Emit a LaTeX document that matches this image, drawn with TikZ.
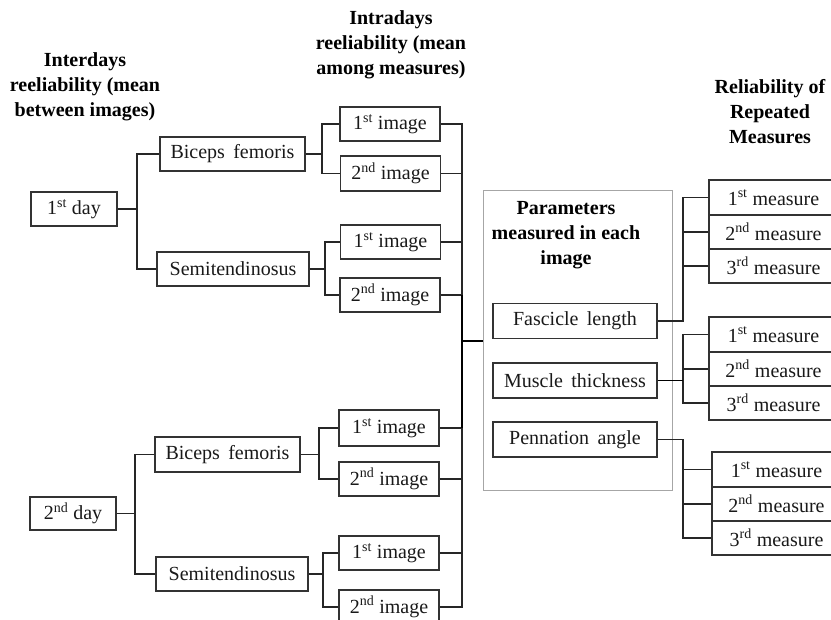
\documentclass[tikz,border=0pt]{standalone}
\usepackage{fontspec}
\setmainfont{Liberation Serif}
\begin{document}
\begin{tikzpicture}[x=1pt,y=-1pt,
  box/.style={draw=black!80,line width=1.1pt,inner sep=0pt,minimum height=34pt,
     font=\fontsize{20}{24}\selectfont,text=black!90},
  imgbox/.style={box,minimum width=100pt},
  meas/.style={box,minimum width=129pt},
  parbox/.style={box,minimum width=164pt,minimum height=35pt},
  title/.style={align=center,inner sep=0pt,font=\bfseries\fontsize{20}{25}\selectfont},
  conn/.style={draw=black!85,line width=1.1pt},
  bold conn/.style={draw=black,line width=1.6pt}]
\useasboundingbox (0,0) rectangle (831,620);
\clip (0,0) rectangle (831,620);
% titles
\node[title] (t1) at (85,87) {Interdays\\reeliability (mean\\between images)};
\node[title] (t2) at (391,45) {Intradays\\reeliability (mean\\among measures)};
\node[title] (t3) at (770,112) {Reliability of\\Repeated\\Measures};
% gray parameters box
\node[draw=black!35,line width=1pt,minimum width=189pt,minimum height=300pt,inner sep=0pt] (par) at (577.5,341) {};
\node[title] (t4) at (566,235) {Parameters\\measured in each\\image};
% day 1
\node[box,minimum width=86pt] (day1) at (74,209) {1\textsuperscript{st} day};
\node[box,minimum width=145pt] (bf1) at (232.5,154) {Biceps\, femoris};
\node[box,minimum width=152pt] (st1) at (233,269) {Semitendinosus};
\node[imgbox] (im1a) at (390,124) {1\textsuperscript{st} image};
\node[imgbox,minimum height=35pt] (im1b) at (390.5,173.5) {2\textsuperscript{nd} image};
\node[imgbox] (im1c) at (390.5,242) {1\textsuperscript{st} image};
\node[imgbox] (im1d) at (390,295) {2\textsuperscript{nd} image};
% day 2
\node[box,minimum width=86pt,minimum height=33pt] (day2) at (73,513.5) {2\textsuperscript{nd} day};
\node[box,minimum width=145pt,minimum height=35pt] (bf2) at (227.5,454.5) {Biceps\, femoris};
\node[box,minimum width=152pt] (st2) at (232,574) {Semitendinosus};
\node[imgbox,minimum height=36pt] (im2a) at (389,428) {1\textsuperscript{st} image};
\node[imgbox] (im2b) at (389,479) {2\textsuperscript{nd} image};
\node[imgbox] (im2c) at (389,553) {1\textsuperscript{st} image};
\node[imgbox] (im2d) at (389,607) {2\textsuperscript{nd} image};
% parameters
\node[parbox] (fl) at (575,321) {Fascicle\, length};
\node[parbox] (mt) at (575,380.5) {Muscle\, thickness};
\node[parbox] (pa) at (575,439.5) {Pennation\, angle};
% measures
\node[meas,minimum height=35pt] (m1a) at (773.5,197.5) {1\textsuperscript{st} measure};
\node[meas] (m1b) at (773.5,232) {2\textsuperscript{nd} measure};
\node[meas] (m1c) at (773.5,266) {3\textsuperscript{rd} measure};
\node[meas,minimum height=35pt] (m2a) at (773.5,334.5) {1\textsuperscript{st} measure};
\node[meas] (m2b) at (773.5,369) {2\textsuperscript{nd} measure};
\node[meas] (m2c) at (773.5,403) {3\textsuperscript{rd} measure};
\node[meas,minimum height=35pt] (m3a) at (776.5,469.5) {1\textsuperscript{st} measure};
\node[meas] (m3b) at (776.5,504) {2\textsuperscript{nd} measure};
\node[meas] (m3c) at (776.5,538) {3\textsuperscript{rd} measure};
% junction columns
\coordinate (c1) at (137,0);
\coordinate (c2) at (322,0);
\coordinate (c3) at (325,0);
\coordinate (c4) at (135,0);
\coordinate (c5) at (319,0);
\coordinate (c6) at (323,0);
\coordinate (bus) at (462,0);
\coordinate (cm) at (683,0);
% connectors day 1
\draw[conn] (bf1.west) -| (c1 |- st1.west) -- (st1.west);
\draw[conn] (day1.east) -- (c1 |- day1.east);
\draw[conn] (im1a.west) -| (c2 |- im1b.west) -- (im1b.west);
\draw[conn] (bf1.east) -- (c2 |- bf1.east);
\draw[conn] (im1c.west) -| (c3 |- im1d.west) -- (im1d.west);
\draw[conn] (st1.east) -- (c3 |- st1.east);
% connectors day 2
\draw[conn] (bf2.west) -| (c4 |- st2.west) -- (st2.west);
\draw[conn] (day2.east) -- (c4 |- day2.east);
\draw[conn] (im2a.west) -| (c5 |- im2b.west) -- (im2b.west);
\draw[conn] (bf2.east) -- (c5 |- bf2.east);
\draw[conn] (im2c.west) -| (c6 |- im2d.west) -- (im2d.west);
\draw[conn] (st2.east) -- (c6 |- st2.east);
% bus
\draw[conn] (im1a.east) -| (bus |- im2d.east) -- (im2d.east);
\foreach \n in {im1b,im1c,im1d,im2a,im2b,im2c}{\draw[conn] (\n.east) -- (bus |- \n.east);}
\draw[bold conn] (bus |- im1d.east) -- (bus |- im2a.east);
\draw[bold conn] (bus |- par.west) -- (par.west);
% measures connectors
\draw[conn] (m1a.west) -| (cm |- fl.east) -- (fl.east);
\draw[conn] (m1b.west) -- (cm |- m1b.west);
\draw[conn] (m1c.west) -- (cm |- m1c.west);
\draw[conn] (m2a.west) -| (cm |- m2c.west) -- (m2c.west);
\draw[conn] (m2b.west) -- (cm |- m2b.west);
\draw[bold conn] (mt.east) -- (cm |- mt.east);
\draw[conn] (pa.east) -| (cm |- m3c.west) -- (m3c.west);
\draw[conn] (m3a.west) -- (cm |- m3a.west);
\draw[conn] (m3b.west) -- (cm |- m3b.west);
\end{tikzpicture}
\end{document}
